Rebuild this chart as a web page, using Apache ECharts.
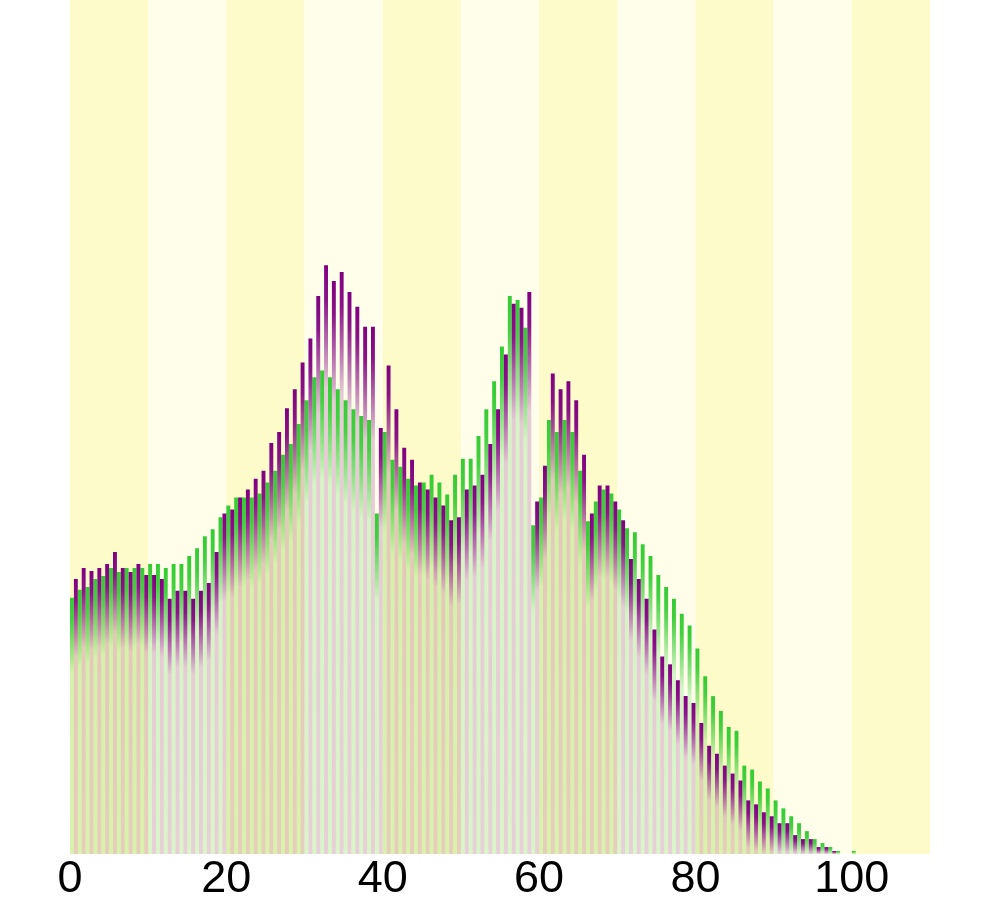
<!DOCTYPE html>
<html>
<head>
<meta charset="utf-8">
<script src="https://cdn.jsdelivr.net/npm/echarts@6/dist/echarts.min.js"></script>
<style>
  html, body { margin: 0; padding: 0; background: #ffffff; }
  #chart { width: 995px; height: 902px; }
</style>
</head>
<body>
<div id="chart"></div>
<script>
// Bin centres (each bin is one unit wide, e.g. [0,1) -> 0.5)
const binCenters = [
  0.5, 1.5, 2.5, 3.5, 4.5, 5.5, 6.5, 7.5, 8.5, 9.5,
  10.5, 11.5, 12.5, 13.5, 14.5, 15.5, 16.5, 17.5, 18.5, 19.5,
  20.5, 21.5, 22.5, 23.5, 24.5, 25.5, 26.5, 27.5, 28.5, 29.5,
  30.5, 31.5, 32.5, 33.5, 34.5, 35.5, 36.5, 37.5, 38.5, 39.5,
  40.5, 41.5, 42.5, 43.5, 44.5, 45.5, 46.5, 47.5, 48.5, 49.5,
  50.5, 51.5, 52.5, 53.5, 54.5, 55.5, 56.5, 57.5, 58.5, 59.5,
  60.5, 61.5, 62.5, 63.5, 64.5, 65.5, 66.5, 67.5, 68.5, 69.5,
  70.5, 71.5, 72.5, 73.5, 74.5, 75.5, 76.5, 77.5, 78.5, 79.5,
  80.5, 81.5, 82.5, 83.5, 84.5, 85.5, 86.5, 87.5, 88.5, 89.5,
  90.5, 91.5, 92.5, 93.5, 94.5, 95.5, 96.5, 97.5, 98.5, 99.5,
  100.5
];

// Green series values
const greenValues = [
  258, 266, 269, 277, 280, 288, 284, 288, 288, 288,
  292, 292, 288, 292, 292, 300, 308, 320, 327, 339,
  351, 359, 359, 359, 363, 374, 386, 402, 413, 433,
  457, 480, 487, 480, 468, 457, 448, 441, 437, 343,
  425, 397, 390, 378, 371, 374, 382, 374, 362, 382,
  398, 398, 421, 448, 476, 511, 562, 558, 530, 331,
  359, 437, 425, 437, 425, 386, 335, 355, 367, 363,
  347, 328, 324, 312, 300, 281, 269, 257, 242, 230,
  207, 179, 159, 144, 128, 124, 89, 85, 73, 66,
  54, 46, 38, 31, 23, 15, 11, 7, 3, 0,
  3
];

// Purple series values
const purpleValues = [
  277, 288, 285, 288, 292, 304, 288, 284, 292, 281,
  281, 277, 257, 265, 265, 257, 265, 273, 304, 343,
  347, 359, 367, 378, 386, 414, 425, 449, 468, 495,
  519, 562, 593, 577, 586, 566, 551, 531, 531, 429,
  492, 448, 409, 397, 374, 367, 359, 351, 336, 339,
  367, 371, 382, 413, 448, 503, 554, 550, 566, 355,
  391, 484, 468, 476, 457, 402, 343, 371, 371, 355,
  336, 297, 277, 257, 226, 199, 191, 175, 159, 152,
  132, 109, 101, 89, 81, 74, 54, 50, 42, 38,
  31, 31, 19, 15, 15, 7, 7, 3, 0, 0,
  0
];

// X axis tick labels that are shown
const xTickLabels = ['0', '20', '40', '60', '80', '100'];

const Y_MAX = 860;

// Vertical fade: saturated cap at the top of each bar, fading to a pale tint.
function fadeFor(rgb, h) {
  const [r, g, b] = rgb;
  if (!(h > 0)) return `rgba(${r},${g},${b},1)`;
  const fadeEnd = Math.min(0.97, (40 + 0.14 * h) / h);
  const cap = fadeEnd * 0.28;
  return new echarts.graphic.LinearGradient(0, 0, 0, 1, [
    { offset: 0, color: `rgba(${r},${g},${b},1)` },
    { offset: cap, color: `rgba(${r},${g},${b},0.92)` },
    { offset: fadeEnd, color: `rgba(${r},${g},${b},0.2)` },
    { offset: 1, color: `rgba(${r},${g},${b},0.18)` }
  ]);
}

function buildData(values, rgb) {
  return binCenters.map((x, i) => ({
    value: [x, values[i]],
    itemStyle: { color: fadeFor(rgb, values[i]) }
  }));
}

const GREEN = [51, 204, 51];
const PURPLE = [128, 0, 128];

const chart = echarts.init(document.getElementById('chart'), null, { renderer: 'canvas' });
chart.setOption({
  animation: false,
  backgroundColor: '#ffffff',
  grid: { left: 70, right: 65, top: 0, bottom: 42, containLabel: false },
  xAxis: {
    type: 'value',
    min: 0,
    max: 110,
    interval: 10,
    axisLine: { show: false },
    axisTick: { show: false },
    splitLine: { show: false },
    splitArea: {
      show: true,
      areaStyle: { color: ['#fdfbc9', '#fefeea'] }
    },
    axisLabel: {
      show: true,
      margin: 3,
      color: '#000000',
      fontSize: 45,
      fontFamily: 'Liberation Sans, Arial, sans-serif',
      formatter: function (v) {
        const s = String(v);
        return xTickLabels.indexOf(s) >= 0 ? s : '';
      }
    }
  },
  yAxis: {
    type: 'value',
    min: 0,
    max: Y_MAX,
    show: false
  },
  series: [
    {
      type: 'bar',
      name: 'green',
      data: buildData(greenValues, GREEN),
      barGap: '0%',
      barCategoryGap: '0%',
      itemStyle: { color: 'rgb(51,204,51)' }
    },
    {
      type: 'bar',
      name: 'purple',
      data: buildData(purpleValues, PURPLE),
      barGap: '0%',
      barCategoryGap: '0%',
      itemStyle: { color: 'rgb(128,0,128)' }
    }
  ]
});
</script>
</body>
</html>
